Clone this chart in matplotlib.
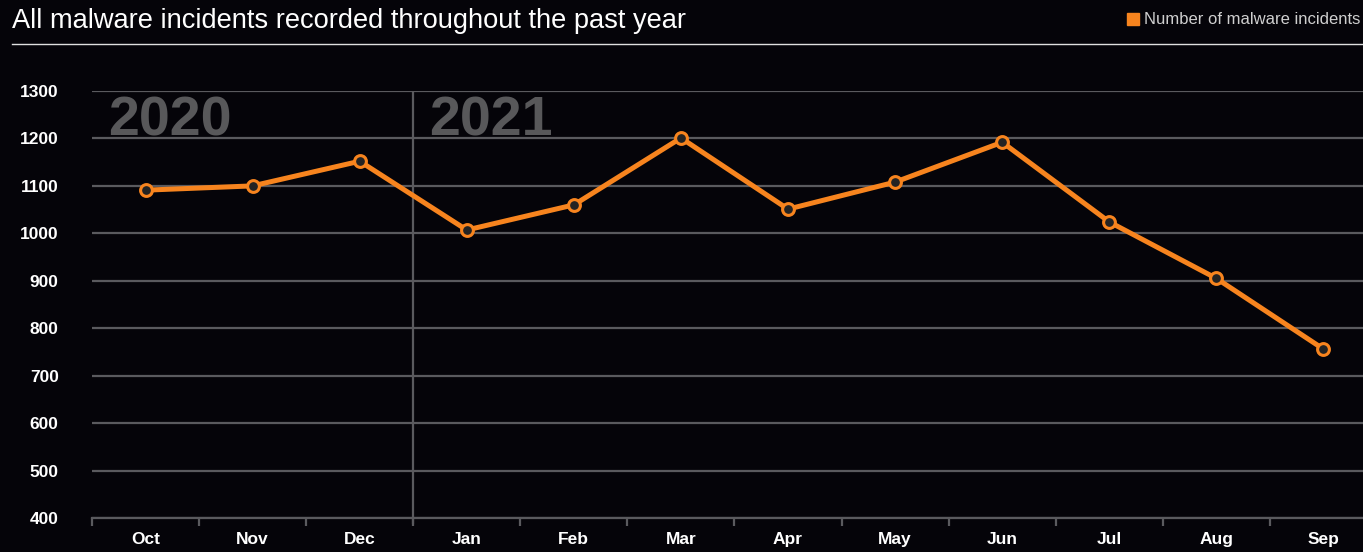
import matplotlib.pyplot as plt
from matplotlib.lines import Line2D
from matplotlib.patches import Rectangle

months = ["Oct", "Nov", "Dec", "Jan", "Feb", "Mar", "Apr", "May", "Jun", "Jul", "Aug", "Sep"]
incidents = [1091, 1100, 1152, 1007, 1060, 1201, 1051, 1108, 1192, 1024, 905, 756]
y_ticks = [400, 500, 600, 700, 800, 900, 1000, 1100, 1200, 1300]
years = ["2020", "2021"]

bg = "#050409"
orange = "#f7841e"
grid = "#5a5a5e"

plt.rcParams["font.family"] = ["Liberation Sans", "DejaVu Sans"]

W, H = 1363, 552
fig = plt.figure(figsize=(W / 100, H / 100), dpi=100, facecolor=bg)

# axes extends slightly past the right edge, like the original
ax = fig.add_axes([92 / W, 1 - 518 / H, 1285 / W, 427 / H])
ax.set_facecolor(bg)

x = list(range(len(months)))
ax.plot(x, incidents, color=orange, lw=3.6, marker="o", ms=8.5,
        mfc="#232323", mec=orange, mew=2.2, zorder=5, solid_joinstyle="miter")

ax.set_xlim(-0.5, 11.5)
ax.set_ylim(400, 1300)
ax.set_yticks(y_ticks)
ax.set_yticklabels([str(v) for v in y_ticks])
ax.yaxis.grid(True, color=grid, lw=1.6)
ax.set_axisbelow(True)

ax.set_xticks(x)
ax.set_xticklabels(months)
ax.set_xticks([i - 0.5 for i in range(len(months) + 1)], minor=True)
ax.tick_params(axis="x", which="major", length=0, pad=10, labelsize=12.5, colors="white")
ax.tick_params(axis="x", which="minor", length=6, width=1.6, color=grid, direction="out")
ax.tick_params(axis="y", length=0, pad=24, labelsize=12.5, colors="white")
for lbl in ax.get_xticklabels() + ax.get_yticklabels():
    lbl.set_fontweight("bold")

for s in ["top", "right", "left"]:
    ax.spines[s].set_visible(False)
ax.spines["bottom"].set_color(grid)
ax.spines["bottom"].set_linewidth(1.6)

# divider between years
ax.axvline(2.5, ymin=0, ymax=1, color=grid, lw=1.6, zorder=1)
ax.plot([2.5, 2.5], [400, 390], color=grid, lw=1.6, clip_on=False)

ax.text(-0.35, 1290, years[0], fontsize=40, fontweight="bold", color="#58585a",
        va="top", ha="left", zorder=2)
ax.text(2.65, 1290, years[1], fontsize=40, fontweight="bold", color="#58585a",
        va="top", ha="left", zorder=2)

# title and rule
fig.text(12 / W, 1 - 28 / H, "All malware incidents recorded throughout the past year",
         fontsize=19.6, color="white", ha="left", va="baseline")
fig.add_artist(Line2D([12 / W, 1], [1 - 44 / H, 1 - 44 / H], color="#e0e0e0", lw=1))

# legend
fig.add_artist(Rectangle((1127 / W, 1 - 25 / H), 12 / W, 12 / H, color=orange,
                         transform=fig.transFigure))
fig.text(1144 / W, 1 - 24 / H, "Number of malware incidents", fontsize=12,
         color="#cfcfcf", ha="left", va="baseline")

plt.savefig("out.png", dpi=100, facecolor=bg)
